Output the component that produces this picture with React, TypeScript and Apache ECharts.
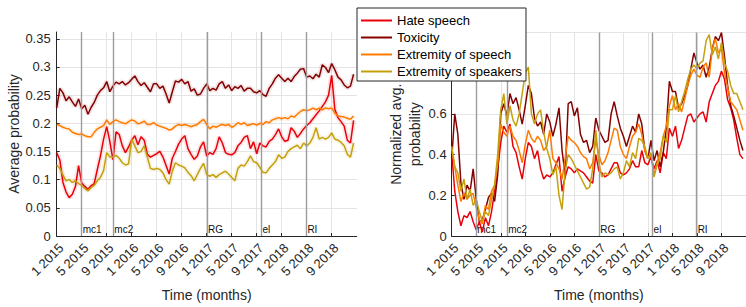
import React, { useEffect, useRef } from 'react';
import * as echarts from 'echarts';

// x positions: months since Jan 2015 (half-month steps)
const months = [
  0, 0.5, 1, 1.5, 2, 2.5, 3, 3.5, 4, 4.5, 5, 5.5, 6, 6.5, 7, 7.5, 8, 8.5, 9, 9.5,
  10, 10.5, 11, 11.5, 12, 12.5, 13, 13.5, 14, 14.5, 15, 15.5, 16, 16.5, 17, 17.5, 18, 18.5, 19, 19.5,
  20, 20.5, 21, 21.5, 22, 22.5, 23, 23.5, 24, 24.5, 25, 25.5, 26, 26.5, 27, 27.5, 28, 28.5, 29, 29.5,
  30, 30.5, 31, 31.5, 32, 32.5, 33, 33.5, 34, 34.5, 35, 35.5, 36, 36.5, 37, 37.5, 38, 38.5, 39, 39.5,
  40, 40.5, 41, 41.5, 42, 42.5, 43, 43.5, 44, 44.5, 45, 45.5, 46, 46.5, 47, 47.5,
];

// Left panel: average probability
const hateAvg = [
  0.148, 0.135, 0.095, 0.078, 0.068, 0.074, 0.088, 0.125, 0.094, 0.088,
  0.083, 0.089, 0.093, 0.118, 0.142, 0.172, 0.194, 0.168, 0.135, 0.185,
  0.180, 0.160, 0.148, 0.158, 0.170, 0.178, 0.162, 0.176, 0.170, 0.145,
  0.140, 0.143, 0.146, 0.150, 0.140, 0.125, 0.110, 0.138, 0.150, 0.163,
  0.172, 0.178, 0.155, 0.145, 0.136, 0.142, 0.158, 0.167, 0.142, 0.148,
  0.145, 0.155, 0.176, 0.165, 0.148, 0.145, 0.144, 0.148, 0.160, 0.166,
  0.175, 0.178, 0.155, 0.167, 0.146, 0.165, 0.160, 0.158, 0.168, 0.172,
  0.180, 0.190, 0.176, 0.168, 0.170, 0.192, 0.186, 0.175, 0.182, 0.190,
  0.196, 0.201, 0.208, 0.215, 0.222, 0.230, 0.238, 0.250, 0.285, 0.225,
  0.210, 0.203, 0.195, 0.170, 0.165, 0.205,
];
const toxAvg = [
  0.227, 0.262, 0.254, 0.240, 0.247, 0.238, 0.230, 0.243, 0.226, 0.232,
  0.216, 0.228, 0.237, 0.250, 0.258, 0.263, 0.274, 0.256, 0.266, 0.273,
  0.270, 0.274, 0.268, 0.272, 0.278, 0.284, 0.274, 0.267, 0.272, 0.264,
  0.256, 0.270, 0.270, 0.262, 0.266, 0.252, 0.236, 0.256, 0.275, 0.273,
  0.278, 0.270, 0.274, 0.257, 0.261, 0.250, 0.252, 0.262, 0.270, 0.258,
  0.262, 0.259, 0.270, 0.274, 0.262, 0.268, 0.258, 0.265, 0.262, 0.267,
  0.257, 0.262, 0.262, 0.256, 0.254, 0.258, 0.251, 0.248, 0.262, 0.270,
  0.280, 0.286, 0.280, 0.274, 0.280, 0.274, 0.283, 0.289, 0.296, 0.297,
  0.282, 0.284, 0.279, 0.287, 0.282, 0.304, 0.299, 0.290, 0.306, 0.295,
  0.282, 0.277, 0.268, 0.263, 0.266, 0.287,
];
const extSpeechAvg = [
  0.198, 0.196, 0.193, 0.191, 0.190, 0.184, 0.182, 0.180, 0.181, 0.178,
  0.176, 0.176, 0.184, 0.190, 0.193, 0.196, 0.206, 0.198, 0.203, 0.206,
  0.203, 0.201, 0.199, 0.203, 0.206, 0.204, 0.199, 0.201, 0.204, 0.198,
  0.198, 0.201, 0.197, 0.195, 0.193, 0.191, 0.188, 0.190, 0.195, 0.198,
  0.196, 0.198, 0.196, 0.194, 0.196, 0.198, 0.203, 0.207, 0.198, 0.190,
  0.195, 0.193, 0.196, 0.198, 0.196, 0.198, 0.193, 0.196, 0.201, 0.198,
  0.201, 0.196, 0.198, 0.199, 0.197, 0.200, 0.198, 0.203, 0.201, 0.206,
  0.208, 0.210, 0.208, 0.210, 0.208, 0.213, 0.211, 0.216, 0.221, 0.224,
  0.222, 0.224, 0.227, 0.224, 0.227, 0.224, 0.227, 0.226, 0.227, 0.218,
  0.213, 0.212, 0.211, 0.209, 0.207, 0.213,
];
const extSpeakersAvg = [
  0.126, 0.120, 0.108, 0.098, 0.100, 0.095, 0.098, 0.093, 0.090, 0.084,
  0.080, 0.086, 0.090, 0.098, 0.104, 0.116, 0.148, 0.140, 0.140, 0.143,
  0.138, 0.130, 0.126, 0.128, 0.172, 0.160, 0.148, 0.150, 0.160, 0.140,
  0.120, 0.118, 0.120, 0.118, 0.112, 0.100, 0.092, 0.115, 0.130, 0.126,
  0.124, 0.121, 0.113, 0.107, 0.098, 0.109, 0.120, 0.129, 0.109, 0.106,
  0.109, 0.104, 0.109, 0.112, 0.115, 0.110, 0.104, 0.098, 0.120, 0.126,
  0.124, 0.132, 0.142, 0.132, 0.130, 0.122, 0.113, 0.112, 0.120, 0.126,
  0.132, 0.144, 0.138, 0.140, 0.150, 0.155, 0.158, 0.161, 0.155, 0.165,
  0.160, 0.165, 0.175, 0.192, 0.172, 0.175, 0.172, 0.175, 0.183, 0.172,
  0.170, 0.166, 0.160, 0.145, 0.140, 0.165,
];

// Right panel: normalized average probability
const hateNorm = [
  0.41, 0.22, 0.12, 0.05, 0.10, 0.09, 0.12, 0.07, 0.03, 0.07,
  0.02, 0.09, 0.05, 0.12, 0.22, 0.33, 0.46, 0.54, 0.51, 0.55,
  0.44, 0.41, 0.34, 0.28, 0.38, 0.46, 0.44, 0.38, 0.42, 0.33,
  0.28, 0.30, 0.29, 0.31, 0.35, 0.39, 0.22, 0.29, 0.34, 0.33,
  0.31, 0.33, 0.32, 0.31, 0.29, 0.27, 0.26, 0.40, 0.32, 0.31,
  0.29, 0.30, 0.33, 0.36, 0.36, 0.31, 0.30, 0.31, 0.33, 0.37,
  0.34, 0.34, 0.42, 0.36, 0.35, 0.39, 0.33, 0.37, 0.31, 0.41,
  0.38, 0.53, 0.49, 0.54, 0.43, 0.47, 0.53, 0.59, 0.60, 0.56,
  0.58, 0.60, 0.61, 0.56, 0.66, 0.70, 0.74, 0.76, 0.81, 0.77,
  0.67, 0.63, 0.57, 0.48, 0.40, 0.38,
];
const toxNorm = [
  0.38, 0.60, 0.50, 0.26, 0.18, 0.25, 0.22, 0.33, 0.18, 0.07,
  0.08, 0.13, 0.19, 0.21, 0.17, 0.30, 0.60, 0.65, 0.59, 0.70,
  0.65, 0.68, 0.62, 0.55, 0.64, 0.74, 0.70, 0.58, 0.54, 0.56,
  0.50, 0.60, 0.56, 0.49, 0.55, 0.63, 0.42, 0.30, 0.65, 0.66,
  0.59, 0.63, 0.50, 0.46, 0.47, 0.41, 0.44, 0.58, 0.52, 0.49,
  0.46, 0.47, 0.60, 0.66, 0.59, 0.53, 0.49, 0.44, 0.49, 0.54,
  0.51, 0.60, 0.55, 0.42, 0.38, 0.47, 0.37, 0.42, 0.34, 0.41,
  0.53, 0.76, 0.71, 0.71, 0.63, 0.65, 0.69, 0.74, 0.82, 0.90,
  0.85, 0.82, 0.84, 0.78, 0.83, 0.92, 0.98, 0.96, 1.00, 0.88,
  0.74, 0.64, 0.59, 0.53, 0.47, 0.42,
];
const extSpeechNorm = [
  0.43, 0.34, 0.25, 0.17, 0.21, 0.18, 0.20, 0.21, 0.14, 0.08,
  0.06, 0.15, 0.13, 0.22, 0.25, 0.35, 0.55, 0.51, 0.49, 0.54,
  0.49, 0.47, 0.42, 0.36, 0.45, 0.52, 0.48, 0.46, 0.49, 0.47,
  0.42, 0.44, 0.52, 0.38, 0.36, 0.33, 0.28, 0.38, 0.49, 0.47,
  0.46, 0.44, 0.41, 0.39, 0.38, 0.33, 0.36, 0.47, 0.40, 0.35,
  0.37, 0.41, 0.47, 0.53, 0.52, 0.44, 0.40, 0.38, 0.44, 0.49,
  0.51, 0.55, 0.50, 0.42, 0.38, 0.40, 0.30, 0.36, 0.41, 0.49,
  0.54, 0.64, 0.69, 0.62, 0.65, 0.61, 0.67, 0.74, 0.79, 0.82,
  0.79, 0.78, 0.83, 0.85, 0.78, 0.92, 0.97, 0.90, 0.92, 0.80,
  0.73, 0.66, 0.64, 0.62, 0.57, 0.52,
];
const extSpeakersNorm = [
  0.44, 0.34, 0.31, 0.22, 0.28, 0.18, 0.23, 0.15, 0.18, 0.12,
  0.07, 0.12, 0.10, 0.18, 0.25, 0.40, 0.62, 0.70, 0.55, 0.64,
  0.57, 0.54, 0.60, 0.70, 0.80, 0.83, 0.60, 0.55, 0.60, 0.62,
  0.51, 0.43, 0.38, 0.30, 0.34, 0.20, 0.13, 0.32, 0.40, 0.38,
  0.35, 0.32, 0.29, 0.26, 0.23, 0.24, 0.33, 0.52, 0.36, 0.29,
  0.31, 0.30, 0.31, 0.33, 0.34, 0.28, 0.31, 0.37, 0.34, 0.41,
  0.38, 0.48, 0.47, 0.44, 0.38, 0.41, 0.29, 0.35, 0.38, 0.49,
  0.46, 0.62, 0.62, 0.69, 0.61, 0.66, 0.71, 0.77, 0.82, 0.84,
  0.82, 0.85, 0.86, 0.96, 0.99, 0.89, 0.93, 0.87, 0.95, 0.85,
  0.81, 0.74, 0.70, 0.70, 0.66, 0.62,
];

const seriesNames = ['Hate speech', 'Toxicity', 'Extremity of speech', 'Extremity of speakers'];
const seriesColors = ['#e8000a', '#850000', '#ff7a00', '#c4a00c'];

const xTicks = [0, 4, 8, 12, 16, 20, 24, 28, 32, 36, 40, 44];
const xTickLabels = [
  '1 2015', '5 2015', '9 2015', '1 2016', '5 2016', '9 2016',
  '1 2017', '5 2017', '9 2017', '1 2018', '5 2018', '9 2018',
];
const rightYLabels = [0, 0.2, 0.4, 0.6];

const eventNames = ['mc1', 'mc2', 'RG', 'el', 'RI'];
const eventMonths = [4.0, 9.06, 24.05, 32.77, 39.95];

const FONT = "'Liberation Sans', Arial, Helvetica, sans-serif";
const INK = '#262626';

function makeXAxis(gridIndex: number) {
  return {
    gridIndex,
    type: 'value',
    min: 0,
    max: 48,
    interval: 4,
    name: 'Time (months)',
    nameLocation: 'middle',
    nameGap: 52,
    nameTextStyle: { fontSize: 14, color: INK, fontFamily: FONT },
    axisLine: { show: true, onZero: false, lineStyle: { color: INK, width: 1 } },
    axisTick: { show: true, inside: true, length: 3, lineStyle: { color: INK } },
    axisLabel: {
      rotate: 45,
      margin: 5,
      verticalAlign: 'top',
      showMaxLabel: false,
      fontSize: 13,
      color: INK,
      fontFamily: FONT,
      formatter: (v: number) => {
        const k = xTicks.indexOf(Math.round(v));
        return k >= 0 ? xTickLabels[k] : '';
      },
    },
    splitLine: { show: true, showMaxLine: false, lineStyle: { color: '#e4e4e4', width: 1 } },
  };
}

export default function App() {
  const ref = useRef<HTMLDivElement>(null);
  useEffect(() => {
    if (!ref.current) return;
    const chart = echarts.init(ref.current, undefined, { renderer: 'svg' });

    const leftData = [hateAvg, toxAvg, extSpeechAvg, extSpeakersAvg];
    const rightData = [hateNorm, toxNorm, extSpeechNorm, extSpeakersNorm];

    const series: any[] = [];
    // event lines + labels
    [0, 1].forEach((g) => {
      series.push({
        type: 'scatter',
        name: 'events' + g,
        xAxisIndex: g,
        yAxisIndex: g,
        silent: true,
        symbol: 'circle',
        symbolSize: 1,
        itemStyle: { color: 'rgba(0,0,0,0)' },
        z: 1,
        data: eventMonths.map((m, i) => ({ value: [m, 0], name: eventNames[i] })),
        label: {
          show: true,
          formatter: '{b}',
          position: [1.5, -11],
          fontSize: 10,
          color: '#111',
          opacity: 1,
          fontFamily: FONT,
        },
        labelLayout: { hideOverlap: false },
        markLine: {
          silent: true,
          symbol: ['none', 'none'],
          label: { show: false },
          lineStyle: { color: '#9c9c9c', width: 1.4, type: 'solid' },
          data: eventMonths.map((m) => ({ xAxis: m })),
        },
      });
    });
    // confidence bands (left panel)
    leftData.forEach((arr, s) => {
      series.push({
        type: 'line',
        name: seriesNames[s] + ' band',
        xAxisIndex: 0,
        yAxisIndex: 0,
        silent: true,
        symbol: 'none',
        z: 2,
        color: seriesColors[s],
        lineStyle: { width: 5, color: seriesColors[s], opacity: 0.1 },
        data: months.map((m, i) => [m, arr[i]]),
      });
    });
    leftData.forEach((arr, s) => {
      series.push({
        type: 'line',
        name: seriesNames[s],
        xAxisIndex: 0,
        yAxisIndex: 0,
        symbol: 'none',
        z: 3,
        color: seriesColors[s],
        lineStyle: { width: 1.5, color: seriesColors[s] },
        data: months.map((m, i) => [m, arr[i]]),
      });
    });
    rightData.forEach((arr, s) => {
      series.push({
        type: 'line',
        name: seriesNames[s],
        xAxisIndex: 1,
        yAxisIndex: 1,
        symbol: 'none',
        z: 3,
        color: seriesColors[s],
        lineStyle: { width: 1.5, color: seriesColors[s] },
        data: months.map((m, i) => [m, arr[i]]),
      });
    });

    chart.setOption({
      animation: false,
      backgroundColor: '#ffffff',
      textStyle: { fontFamily: FONT },
      grid: [
        { left: 56.7, top: 32, width: 300, height: 207 },
        { left: 451.7, top: 32.5, width: 300, height: 206.5 },
      ],
      legend: {
        data: seriesNames,
        orient: 'vertical',
        left: 357,
        top: 8,
        icon: 'rect',
        itemWidth: 31,
        itemHeight: 2,
        itemGap: 4,
        padding: [6, 4, 3, 4],
        backgroundColor: '#ffffff',
        borderColor: INK,
        borderWidth: 1,
        z: 20,
        textStyle: { fontSize: 13, color: '#000', fontFamily: FONT },
      },
      xAxis: [makeXAxis(0), makeXAxis(1)],
      yAxis: [
        {
          gridIndex: 0,
          type: 'value',
          min: 0,
          max: 0.362,
          interval: 0.05,
          name: 'Average probability',
          nameLocation: 'middle',
          nameGap: 34,
          nameTextStyle: { fontSize: 14, color: INK, fontFamily: FONT },
          axisLine: { show: true, onZero: false, lineStyle: { color: INK, width: 1 } },
          axisTick: { show: true, inside: true, length: 3, lineStyle: { color: INK } },
          axisLabel: { fontSize: 13, color: INK, margin: 6, showMaxLabel: false, fontFamily: FONT },
          splitLine: { show: true, showMaxLine: false, lineStyle: { color: '#e4e4e4', width: 1 } },
        },
        {
          gridIndex: 1,
          type: 'value',
          min: 0,
          max: 1,
          interval: 0.2,
          name: 'Normalized avg.\nprobability',
          nameLocation: 'middle',
          nameGap: 27,
          nameTextStyle: { fontSize: 14, color: INK, lineHeight: 19, fontFamily: FONT },
          axisLine: { show: true, onZero: false, lineStyle: { color: INK, width: 1 } },
          axisTick: { show: true, inside: true, length: 3, lineStyle: { color: INK } },
          axisLabel: {
            fontSize: 13,
            color: INK,
            margin: 5,
            fontFamily: FONT,
            formatter: (v: number) => {
              const k = rightYLabels.findIndex((t) => Math.abs(t - v) < 1e-6);
              return k >= 0 ? String(rightYLabels[k]) : '';
            },
          },
          splitLine: { show: true, lineStyle: { color: '#e4e4e4', width: 1 } },
        },
      ],
      series,
    });

    return () => {
      chart.dispose();
    };
  }, []);

  return (
    <div
      ref={ref}
      style={{ position: 'absolute', left: 0, top: 0, width: 746, height: 307, background: '#fff' }}
    />
  );
}
